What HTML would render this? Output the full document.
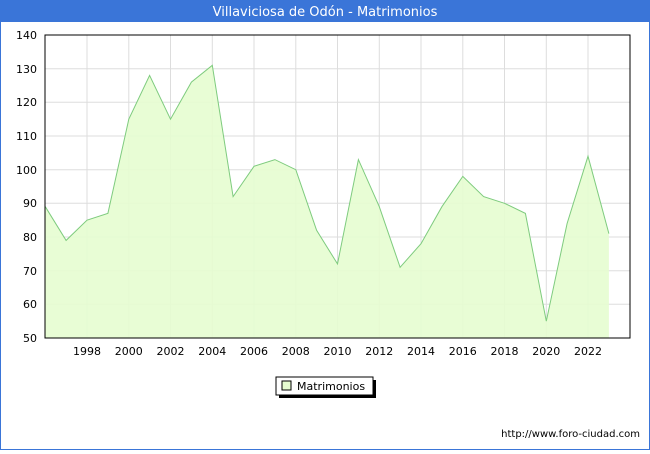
<!DOCTYPE html>
<html><head><style>
body{margin:0;width:650px;height:450px;overflow:hidden;background:#fff;font-family:"DejaVu Sans","Liberation Sans",sans-serif}
</style></head><body>
<svg width="650" height="450" xmlns="http://www.w3.org/2000/svg" font-family="DejaVu Sans, Liberation Sans, sans-serif">
<rect x="0.5" y="0.5" width="649" height="449" fill="#fff" stroke="#3a75d8"/>
<rect x="0" y="0" width="650" height="22" fill="#3a75d8"/>
<text x="325" y="16" text-anchor="middle" fill="#fff" font-size="13">Villaviciosa de Odón - Matrimonios</text>
<g stroke="#ddd" stroke-width="1">
<line x1="45" x2="630" y1="68.7" y2="68.7"/><line x1="45" x2="630" y1="102.3" y2="102.3"/>
<line x1="45" x2="630" y1="136" y2="136"/><line x1="45" x2="630" y1="169.7" y2="169.7"/>
<line x1="45" x2="630" y1="203.3" y2="203.3"/><line x1="45" x2="630" y1="237" y2="237"/>
<line x1="45" x2="630" y1="270.7" y2="270.7"/><line x1="45" x2="630" y1="304.3" y2="304.3"/>
<line x1="87" x2="87" y1="35" y2="338"/><line x1="128.8" x2="128.8" y1="35" y2="338"/>
<line x1="170.5" x2="170.5" y1="35" y2="338"/><line x1="212.3" x2="212.3" y1="35" y2="338"/>
<line x1="254" x2="254" y1="35" y2="338"/><line x1="295.8" x2="295.8" y1="35" y2="338"/>
<line x1="337.5" x2="337.5" y1="35" y2="338"/><line x1="379.3" x2="379.3" y1="35" y2="338"/>
<line x1="421" x2="421" y1="35" y2="338"/><line x1="462.8" x2="462.8" y1="35" y2="338"/>
<line x1="504.5" x2="504.5" y1="35" y2="338"/><line x1="546.3" x2="546.3" y1="35" y2="338"/>
<line x1="588" x2="588" y1="35" y2="338"/>
</g>
<polygon fill="#e6fdd0" fill-opacity="0.9" points="45.3,338 45.3,206.7 66.1,240.4 87,220.2 107.9,213.4 128.8,119.2 149.6,75.4 170.5,119.2 191.4,82.1 212.3,65.3 233.1,196.6 254,166.3 274.9,159.6 295.8,169.7 316.6,230.3 337.5,263.9 358.4,159.6 379.3,206.7 400.1,267.3 421,243.7 441.9,206.7 462.8,176.4 483.6,196.6 504.5,203.3 525.4,213.4 546.3,321.2 567.1,223.5 588,156.2 608.9,233.6 608.9,338"/>
<polyline fill="none" stroke="#7ecb7e" stroke-width="1" points="45.3,206.7 66.1,240.4 87,220.2 107.9,213.4 128.8,119.2 149.6,75.4 170.5,119.2 191.4,82.1 212.3,65.3 233.1,196.6 254,166.3 274.9,159.6 295.8,169.7 316.6,230.3 337.5,263.9 358.4,159.6 379.3,206.7 400.1,267.3 421,243.7 441.9,206.7 462.8,176.4 483.6,196.6 504.5,203.3 525.4,213.4 546.3,321.2 567.1,223.5 588,156.2 608.9,233.6"/>
<rect x="45" y="35" width="585" height="303" fill="none" stroke="#000"/>
<g font-size="11" fill="#000" text-anchor="end">
<text x="37" y="39">140</text><text x="37" y="73">130</text><text x="37" y="106">120</text>
<text x="37" y="140">110</text><text x="37" y="174">100</text><text x="37" y="207">90</text>
<text x="37" y="241">80</text><text x="37" y="275">70</text><text x="37" y="308">60</text><text x="37" y="342">50</text>
</g>
<g font-size="11" fill="#000" text-anchor="middle">
<text x="87" y="355">1998</text><text x="128.8" y="355">2000</text><text x="170.5" y="355">2002</text>
<text x="212.3" y="355">2004</text><text x="254" y="355">2006</text><text x="295.8" y="355">2008</text>
<text x="337.5" y="355">2010</text><text x="379.3" y="355">2012</text><text x="421" y="355">2014</text>
<text x="462.8" y="355">2016</text><text x="504.5" y="355">2018</text><text x="546.3" y="355">2020</text>
<text x="588" y="355">2022</text>
</g>
<rect x="279" y="380" width="97" height="18" fill="#000"/>
<rect x="276" y="377" width="97" height="18" fill="#fff" stroke="#000"/>
<rect x="282" y="381" width="9" height="9" fill="#e6fdd0" stroke="#000"/>
<text x="297" y="390" font-size="11">Matrimonios</text>
<text x="640" y="437" font-size="10" text-anchor="end">http://www.foro-ciudad.com</text>
</svg>
</body></html>
